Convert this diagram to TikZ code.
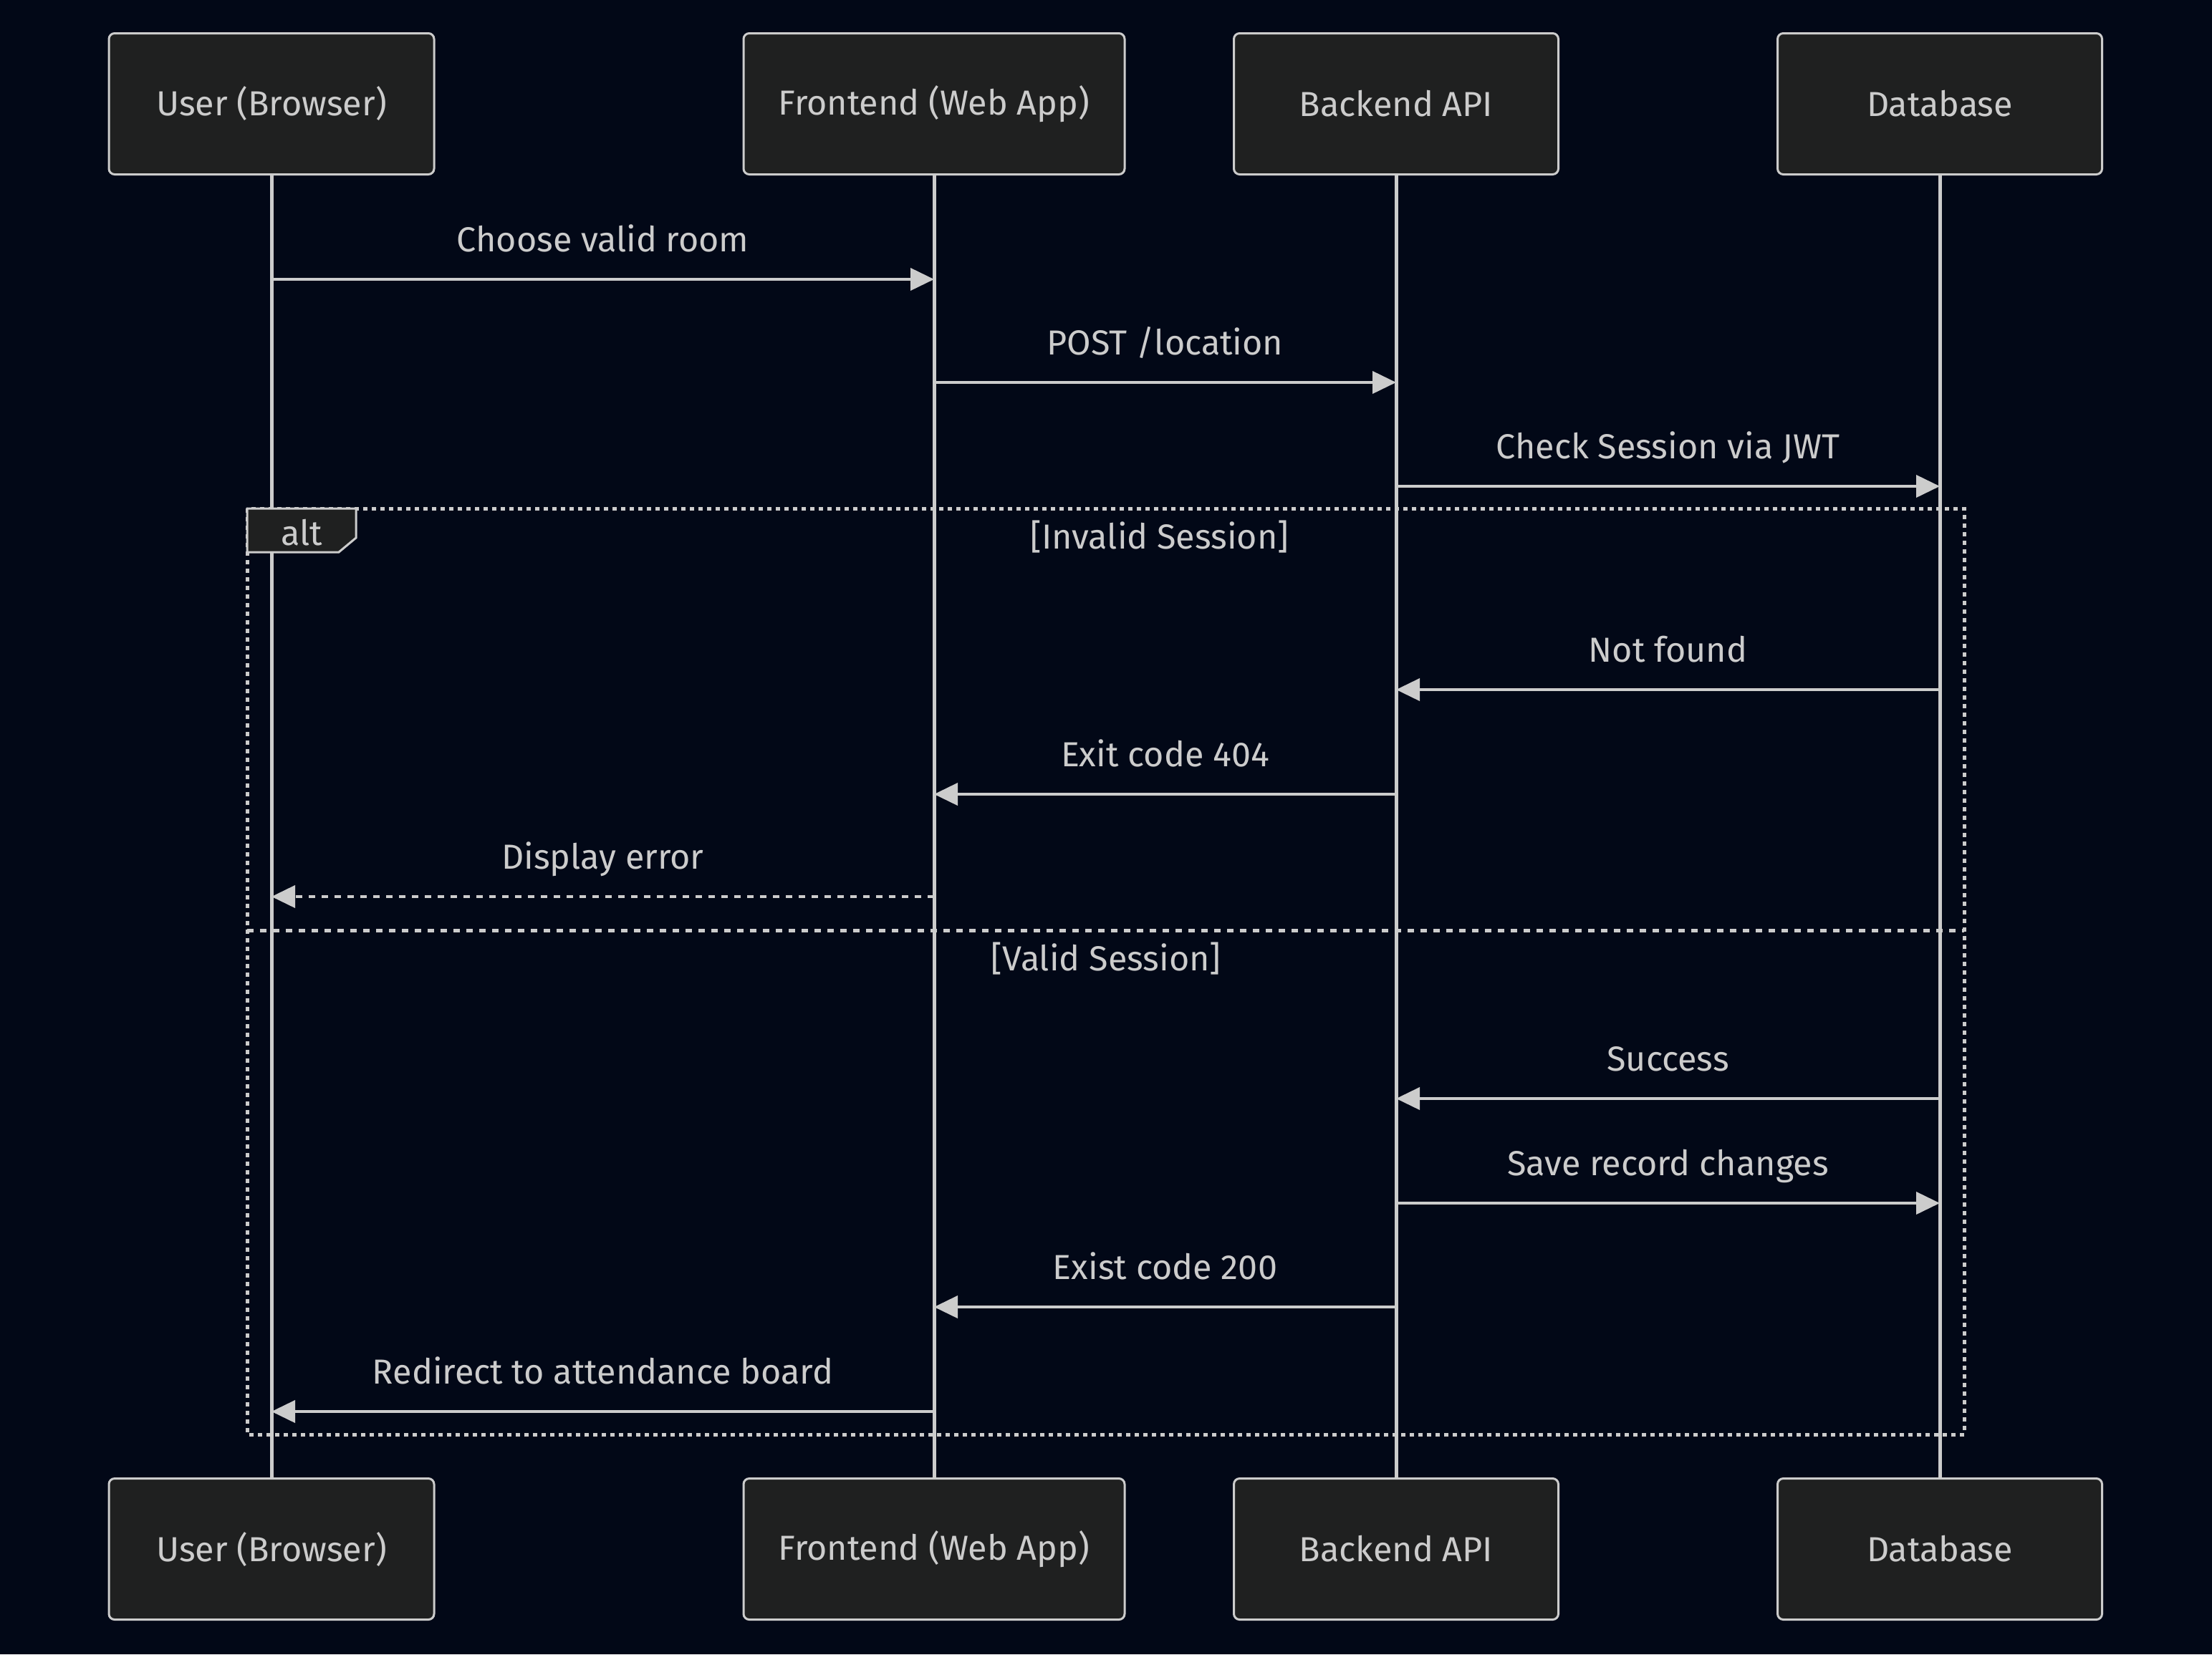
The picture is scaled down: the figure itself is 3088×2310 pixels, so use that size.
\documentclass[tikz,border=0pt]{standalone}
\usepackage{fontspec}
\setmainfont{Fira Sans}
\usetikzlibrary{arrows.meta}
\definecolor{bg}{HTML}{020817}
\definecolor{boxfill}{HTML}{1F2020}
\definecolor{fg}{HTML}{CCCCCC}
\begin{document}
\begin{tikzpicture}[x=1pt,y=-1pt,
  font=\fontsize{48.5}{58}\selectfont,
  actor/.style={draw=fg, fill=boxfill, line width=3pt, rounded corners=8pt,
    minimum height=197pt, text=fg, inner sep=0pt},
  life/.style={draw=fg, line width=5pt},
  msg/.style={draw=fg, line width=4pt, -{Triangle[length=33pt,width=31pt]}},
  dmsg/.style={msg, dash pattern=on 9pt off 9pt},
  lbl/.style={text=fg, inner sep=0pt, text height=0.7em, text depth=0.2em},
  frame/.style={draw=fg, line width=5pt, dash pattern=on 6pt off 6pt},
  sep/.style={draw=fg, line width=5pt, dash pattern=on 9pt off 9pt},
  tagbox/.style={draw=fg, fill=boxfill, line width=3pt}
]
\fill[bg] (0,0) rectangle (3088,2310);
\useasboundingbox (0,0) rectangle (3088,2310);

% participants
\node[actor, minimum width=454pt] (u1) at (379,145) {User (Browser)};
\node[actor, minimum width=532pt] (f1) at (1304,145) {Frontend (Web App)};
\node[actor, minimum width=453pt] (b1) at (1949,145) {Backend API};
\node[actor, minimum width=453pt] (d1) at (2708,145) {Database};
\node[actor, minimum width=454pt] (u2) at (379,2163) {User (Browser)};
\node[actor, minimum width=532pt] (f2) at (1304,2163) {Frontend (Web App)};
\node[actor, minimum width=453pt] (b2) at (1949,2163) {Backend API};
\node[actor, minimum width=453pt] (d2) at (2708,2163) {Database};

% lifelines
\draw[life] (u1.south) -- (u2.north);
\draw[life] (f1.south) -- (f2.north);
\draw[life] (b1.south) -- (b2.north);
\draw[life] (d1.south) -- (d2.north);

% messages
\draw[msg] (u1.south |- 0,390) -- (f1.south |- 0,390)
  node[lbl, midway, above=35pt] (m1) {Choose valid room};
\draw[msg] (f1.south |- 0,534) -- (b1.south |- 0,534)
  node[lbl, midway, above=35pt] (m2) {POST /location};
\draw[msg] (b1.south |- 0,679) -- (d1.south |- 0,679)
  node[lbl, midway, above=35pt] (m3) {Check Session via JWT};
\draw[msg] (d1.south |- 0,963) -- (b1.south |- 0,963)
  node[lbl, midway, above=35pt] (m4) {Not found};
\draw[msg] (b1.south |- 0,1109) -- (f1.south |- 0,1109)
  node[lbl, midway, above=35pt] (m5) {Exit code 404};
\draw[dmsg] (f1.south |- 0,1252) -- (u1.south |- 0,1252)
  node[lbl, midway, above=35pt] (m6) {Display error};
\draw[msg] (d1.south |- 0,1534) -- (b1.south |- 0,1534)
  node[lbl, midway, above=35pt] (m7) {Success};
\draw[msg] (b1.south |- 0,1680) -- (d1.south |- 0,1680)
  node[lbl, midway, above=35pt] (m8) {Save record changes};
\draw[msg] (b1.south |- 0,1825) -- (f1.south |- 0,1825)
  node[lbl, midway, above=35pt] (m9) {Exist code 200};
\draw[msg] (f1.south |- 0,1971) -- (u1.south |- 0,1971)
  node[lbl, midway, above=35pt] (m10) {Redirect to attendance board};

% alt frame
\draw[frame] (345,710) rectangle (2742,2003);
\draw[sep] (345,1299) -- (2742,1299);
\draw[tagbox] (345,710) -- (497,710) -- (497,751) -- (473,771) -- (345,771) -- cycle;
\node[lbl] (alt) at (421,759) {alt};
\node[lbl] (g1) at (1619,764) {[Invalid Session]};
\node[lbl] (g2) at (1544,1353) {[Valid Session]};
\end{tikzpicture}
\end{document}
